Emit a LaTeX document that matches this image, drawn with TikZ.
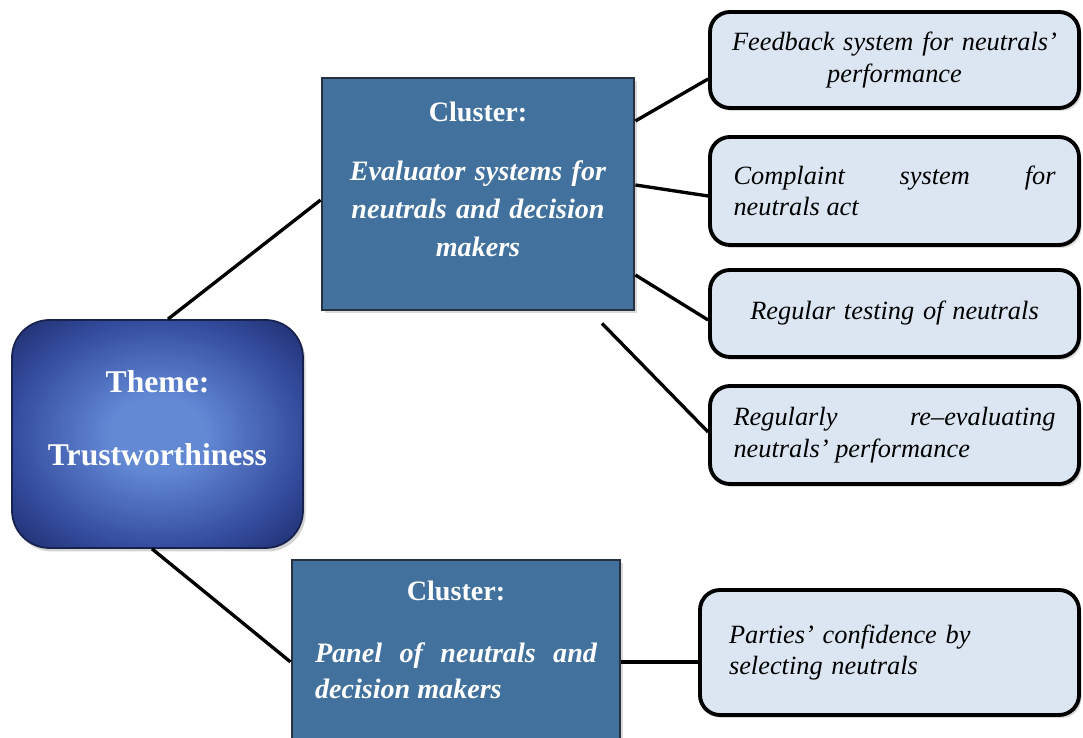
\documentclass[tikz,border=0pt]{standalone}
\usepackage{fontspec}
\setmainfont{Liberation Serif}
\usetikzlibrary{shadows}
\definecolor{clusterblue}{RGB}{65,113,156}
\definecolor{clusteredge}{RGB}{38,50,66}
\definecolor{leafblue}{RGB}{220,230,242}
\definecolor{themelight}{RGB}{99,137,213}
\definecolor{thememid}{RGB}{52,76,158}
\definecolor{themedark}{RGB}{28,42,104}
\definecolor{themeedge}{RGB}{24,34,78}
\pgfdeclareradialshading{themeglow}{\pgfpoint{0bp}{0bp}}{%
  color(0bp)=(themelight); color(8bp)=(themelight);
  color(25bp)=(thememid); color(36bp)=(themedark); color(50bp)=(themedark)}
\tolerance=9999
\hbadness=10000
\hyphenpenalty=10000
\exhyphenpenalty=10000

\begin{document}
\begin{tikzpicture}[
  theme/.style={rounded corners=.75cm, draw=themeedge, line width=1pt,
    shading=themeglow, text=white,
    drop shadow={opacity=.35, shadow xshift=.05cm, shadow yshift=-.07cm},
    minimum width=5.82cm, minimum height=4.56cm, text width=5cm, align=center,
    font=\fontsize{18}{21.6}\selectfont\bfseries},
  cluster/.style={draw=clusteredge, line width=1.6pt, fill=clusterblue, text=white,
    drop shadow={opacity=.3, shadow xshift=.06cm, shadow yshift=-.06cm},
    font=\fontsize{16}{21.6}\selectfont\bfseries},
  leaf/.style={rounded corners=.4cm, draw=black, line width=2.2pt, fill=leafblue,
    drop shadow={opacity=.3, shadow xshift=.05cm, shadow yshift=-.06cm},
    minimum width=7.38cm, text width=6.44cm,
    font=\fontsize{15}{18}\selectfont\itshape},
  link/.style={line width=1.9pt}]
  \useasboundingbox (0,0) rectangle (21.66,14.76);
  \clip (0,0) rectangle (21.66,14.76);

  \node[theme, shade] (Th) at (3.15,6.08) {Theme:\\[19.4pt]Trustworthiness\par\vspace*{.63cm}};

  \node[cluster, minimum width=6.24cm, minimum height=4.64cm, text width=5.7cm, align=center]
       (Ev) at (9.56,10.88)
       {Cluster:\\[12pt]\itshape Evaluator systems for\\neutrals and decision\\makers\par\vspace*{.6cm}};
  \node[cluster, minimum width=6.56cm, minimum height=4.08cm, text width=5.64cm, align=justify,
        font=\fontsize{16}{20.5}\selectfont\bfseries]
       (Pa) at (9.12,1.52)
       {{\centering Cluster:\par}\vspace{14.8pt}\itshape Panel of neutrals and decision makers\par\vspace*{.9cm}};

  \node[leaf, minimum height=1.92cm, text width=6.9cm, inner xsep=.2cm, align=center]
       (Fb) at (17.89,13.56)
       {Feedback system for neutrals'\\performance};
  \node[leaf, minimum height=2.16cm, align=justify] (Co) at (17.89,10.94)
       {Complaint system for\linebreak neutrals act\par\vspace*{.5cm}};
  \node[leaf, minimum height=1.74cm, align=center] (Te) at (17.89,8.49)
       {Regular testing of neutrals\par\vspace*{.66cm}};
  \node[leaf, minimum height=1.96cm, align=justify] (Re) at (17.89,6.06)
       {Regularly re--evaluating neutrals' performance\par\vspace*{.26cm}};
  \node[leaf, minimum width=7.58cm, minimum height=2.5cm, text width=6.42cm, align=left]
       (Pc) at (17.79,1.71)
       {Parties' confidence by selecting neutrals\par\vspace*{.38cm}};

  \coordinate (gap) at ([xshift=2.48cm,yshift=-.24cm]Ev.south);

  \draw[link] ([xshift=.21cm]Th.north)  -- ([yshift=-.12cm]Ev.west);
  \draw[link] ([xshift=-.11cm]Th.south) -- (Pa.west);
  \draw[link] ([yshift=1.46cm]Ev.east)  -- ([yshift=-.38cm]Fb.west);
  \draw[link] ([yshift=.18cm]Ev.east)   -- ([yshift=-.1cm]Co.west);
  \draw[link] ([yshift=-1.62cm]Ev.east) -- ([yshift=-.13cm]Te.west);
  \draw[link] (gap)                     -- ([yshift=.06cm]Re.west);
  \draw[link] (Pa.east)                 -- (Pa.east -| Pc.west);
\end{tikzpicture}
\end{document}
